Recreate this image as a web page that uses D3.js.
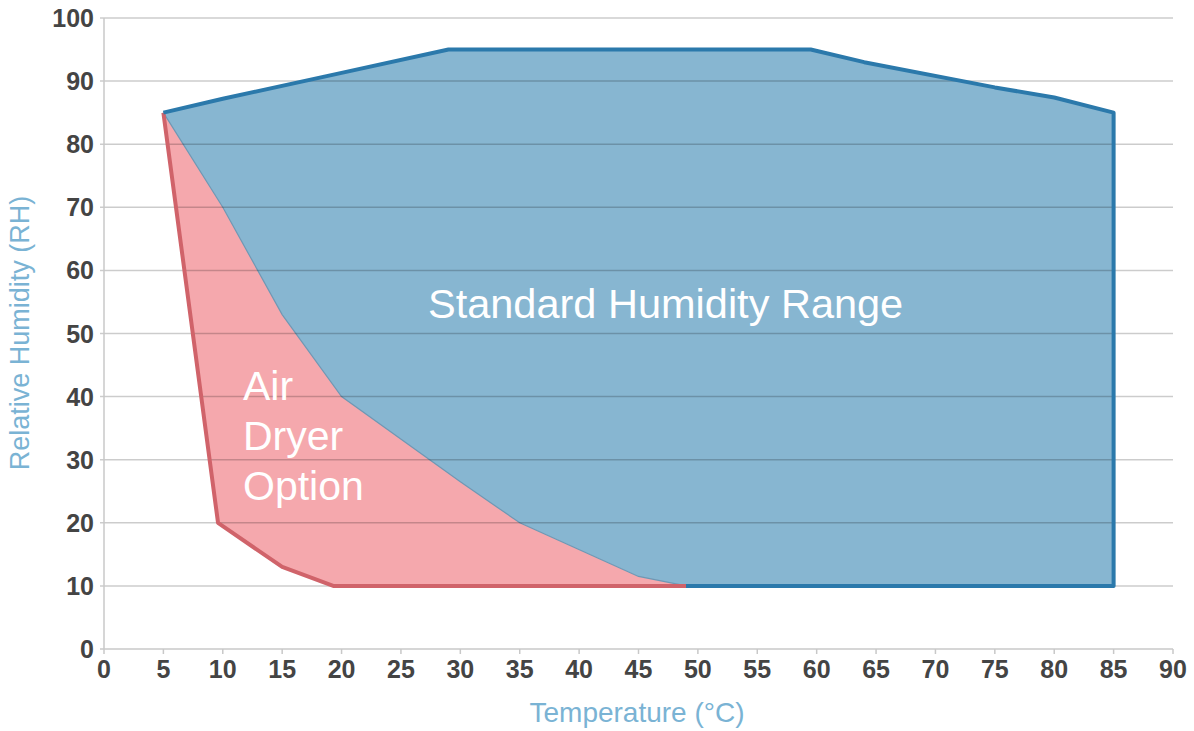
<!DOCTYPE html>
<html>
<head>
<meta charset="utf-8">
<script src="https://cdn.jsdelivr.net/npm/d3@7"></script>
<style>
  body { margin: 0; background: #fff; }
  svg { display: block; font-family: "Liberation Sans", Arial, sans-serif; }
</style>
</head>
<body>
<svg id="chart" width="1194" height="731"></svg>
<script>
'use strict'

// ---------------------------------------------------------------- DATA
let xTicks = d3.range(0, 91, 5)
let yTicks = d3.range(0, 101, 10)

// upper edge of the standard range (temperature, RH)
let standardTop = [[5,85],[10,87.2],[20,91.3],[29,95],[59.5,95],[64,93],[75,89],[80,87.4],[85,85]]
let standardRight = [[85,85],[85,10],[49,10]]
// shared edge between the two areas, from top-left down to the bottom
let boundary = [[5,85],[10,70],[15,53],[20,40],[30,26.5],[35,20],[45,11.5],[49,10]]
// outer edge of the air dryer option
let dryerOuter = [[5,85],[9.6,20],[15,13],[19.3,10],[49,10]]

let xLabel = 'Temperature (°C)'
let yLabel = 'Relative Humidity (RH)'
let standardLabel = 'Standard Humidity Range'
let dryerLabel = ['Air', 'Dryer', 'Option']

// ---------------------------------------------------------------- SETUP
let svg = d3.select('#chart')

let x = d3.scaleLinear().domain([0, 90]).range([104, 1173])
let y = d3.scaleLinear().domain([0, 100]).range([649, 18])

let line = d3.line().x(d => x(d[0])).y(d => y(d[1]))

let standardPoly = standardTop.concat(standardRight.slice(1), boundary.slice().reverse().slice(1))
let dryerPoly = dryerOuter.concat(boundary.slice().reverse().slice(1))

// ---------------------------------------------------------------- AREAS
svg.append('path')
  .attr('d', line(dryerPoly) + 'Z')
  .attr('fill', '#f5a8ad')

svg.append('path')
  .attr('d', line(standardPoly) + 'Z')
  .attr('fill', '#87b6d1')

svg.append('path')
  .attr('d', line(boundary))
  .attr('fill', 'none')
  .attr('stroke', '#6f97b3')
  .attr('stroke-width', 1.2)

// ---------------------------------------------------------------- GRID
let grid = svg.append('g')
grid.selectAll('line.h').data(yTicks.slice(1)).enter()
  .append('line')
    .attr('x1', x(0) - 4).attr('x2', x(90))
    .attr('y1', d => y(d)).attr('y2', d => y(d))
    .attr('stroke', 'rgba(0,0,0,0.2)')
    .attr('stroke-width', 1.5)

// axes
grid.append('line')
  .attr('x1', x(0)).attr('x2', x(0)).attr('y1', y(100)).attr('y2', y(0))
  .attr('stroke', '#c8c8c8').attr('stroke-width', 1.5)
grid.append('line')
  .attr('x1', x(0) - 4).attr('x2', x(90)).attr('y1', y(0)).attr('y2', y(0))
  .attr('stroke', '#c8c8c8').attr('stroke-width', 1.5)
grid.selectAll('line.t').data(xTicks).enter()
  .append('line')
    .attr('x1', d => x(d)).attr('x2', d => x(d))
    .attr('y1', y(0)).attr('y2', y(0) + 5)
    .attr('stroke', '#c8c8c8').attr('stroke-width', 1.5)

// ---------------------------------------------------------------- OUTLINES
svg.append('path')
  .attr('d', line(dryerOuter))
  .attr('fill', 'none')
  .attr('stroke', '#d0636a')
  .attr('stroke-width', 4)
  .attr('stroke-linejoin', 'round')

svg.append('path')
  .attr('d', line(standardTop.concat(standardRight.slice(1))))
  .attr('fill', 'none')
  .attr('stroke', '#2b79ab')
  .attr('stroke-width', 4)
  .attr('stroke-linejoin', 'round')

// ---------------------------------------------------------------- TICK LABELS
svg.selectAll('text.xt').data(xTicks).enter()
  .append('text')
    .attr('x', d => x(d)).attr('y', 678)
    .attr('text-anchor', 'middle')
    .attr('font-size', 25).attr('font-weight', 'bold')
    .attr('fill', '#444')
    .text(d => d)

svg.selectAll('text.yt').data(yTicks).enter()
  .append('text')
    .attr('x', 94).attr('y', d => y(d) + 9)
    .attr('text-anchor', 'end')
    .attr('font-size', 25).attr('font-weight', 'bold')
    .attr('fill', '#444')
    .text(d => d)

// ---------------------------------------------------------------- TITLES
svg.append('text')
  .attr('x', 637).attr('y', 722)
  .attr('text-anchor', 'middle')
  .attr('font-size', 28)
  .attr('fill', '#7ab3d4')
  .text(xLabel)

svg.append('text')
  .attr('transform', 'translate(29,333) rotate(-90)')
  .attr('text-anchor', 'middle')
  .attr('font-size', 27)
  .attr('fill', '#7ab3d4')
  .text(yLabel)

// ---------------------------------------------------------------- LABELS
svg.append('text')
  .attr('x', 428).attr('y', 318)
  .attr('font-size', 41.5)
  .attr('fill', '#fff')
  .text(standardLabel)

svg.selectAll('text.dl').data(dryerLabel).enter()
  .append('text')
    .attr('x', 243).attr('y', (d, i) => 400 + i * 50)
    .attr('font-size', 41)
    .attr('fill', '#fff')
    .text(d => d)
</script>
</body>
</html>
